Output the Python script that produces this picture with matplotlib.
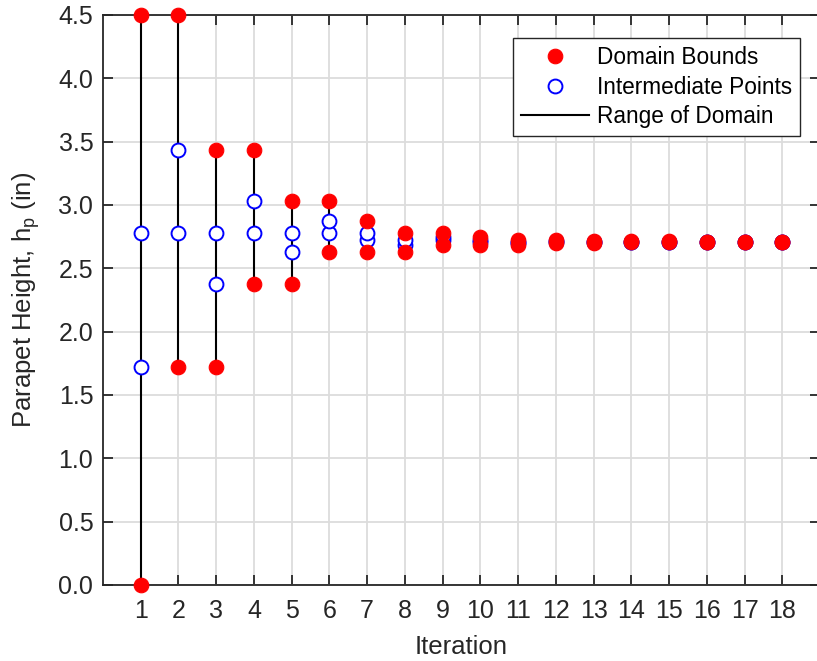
import matplotlib
matplotlib.use("Agg")
import matplotlib.pyplot as plt
from matplotlib.ticker import FormatStrFormatter

plt.rcParams['font.family'] = ['Liberation Sans', 'DejaVu Sans']
plt.rcParams['mathtext.fontset'] = 'custom'
plt.rcParams['mathtext.rm'] = 'Liberation Sans'

# Golden-section search history for the parapet height
iterations = list(range(1, 19))
lower_bound = [0.0, 1.7188, 1.7188, 2.3754, 2.3754, 2.6262, 2.6262, 2.6262, 2.6854,
               2.6854, 2.6854, 2.6994, 2.6994, 2.7048, 2.7080, 2.7080, 2.7093, 2.7093]
upper_bound = [4.5, 4.5, 3.4377, 3.4377, 3.0319, 3.0319, 2.8769, 2.7812, 2.7812,
               2.7446, 2.7220, 2.7220, 2.7134, 2.7134, 2.7134, 2.7113, 2.7113, 2.7105]
inner_low = [1.7188, 2.7812, 2.3754, 2.7812, 2.6262, 2.7812, 2.7220, 2.6854, 2.7220,
             2.7080, 2.6994, 2.7080, 2.7048, 2.7080, 2.7101, 2.7093, 2.7101, 2.7098]
inner_high = [2.7812, 3.4377, 2.7812, 3.0319, 2.7812, 2.8769, 2.7812, 2.7220, 2.7446,
              2.7220, 2.7080, 2.7134, 2.7080, 2.7101, 2.7113, 2.7101, 2.7105, 2.7101]

fig = plt.figure(figsize=(8.17, 6.61), dpi=100)
ax = fig.add_axes([103 / 817, 76 / 661, 717 / 817, 570 / 661])

fs_tick = 18
fs_label = 18.5
fs_leg = 16.3
dark = '#262626'

range_line = None
for x, lo, hi in zip(iterations, lower_bound, upper_bound):
    range_line, = ax.plot([x, x], [lo, hi], color='black', lw=1.5, zorder=2)

inner_x = iterations + iterations
inner_y = inner_low + inner_high
h_inner, = ax.plot(inner_x, inner_y, linestyle='none', marker='o', ms=10,
                   mfc='white', mec='blue', mew=1.4, zorder=3)

bound_x = iterations + iterations
bound_y = lower_bound + upper_bound
h_bound, = ax.plot(bound_x, bound_y, linestyle='none', marker='o', ms=10.5,
                   mfc='red', mec='red', mew=0.8, zorder=4, clip_on=False)

ax.set_xlim(0, 19)
ax.set_ylim(0, 4.5)
ax.set_xticks(iterations)
ax.set_yticks([0, 0.5, 1.0, 1.5, 2.0, 2.5, 3.0, 3.5, 4.0, 4.5])
ax.yaxis.set_major_formatter(FormatStrFormatter('%.1f'))
ax.tick_params(direction='in', length=7, width=1.3, colors=dark, labelsize=fs_tick,
               top=True, right=True)
ax.tick_params(axis='x', pad=10)
ax.tick_params(axis='y', pad=7)
for s in ax.spines.values():
    s.set_linewidth(1.3)
    s.set_color(dark)
ax.grid(True, color='#dcdcdc', lw=1.3)
ax.set_axisbelow(True)

ax.set_xlabel('Iteration', fontsize=fs_label, color=dark, labelpad=9)
ax.set_ylabel(r'Parapet Height, h$_\mathregular{p}$ (in)', fontsize=fs_label,
              color=dark, labelpad=12)

leg = ax.legend([h_bound, h_inner, range_line],
                ['Domain Bounds', 'Intermediate Points', 'Range of Domain'],
                loc='upper right', bbox_to_anchor=(0.972, 0.96), borderaxespad=0,
                fontsize=fs_leg, fancybox=False, framealpha=1, edgecolor=dark,
                handlelength=3.0, handletextpad=0.35, labelspacing=0.3,
                borderpad=0.35)
leg.get_frame().set_linewidth(1.0)
for t in leg.get_texts():
    t.set_color('black')

fig.savefig('out.png', dpi=100)
